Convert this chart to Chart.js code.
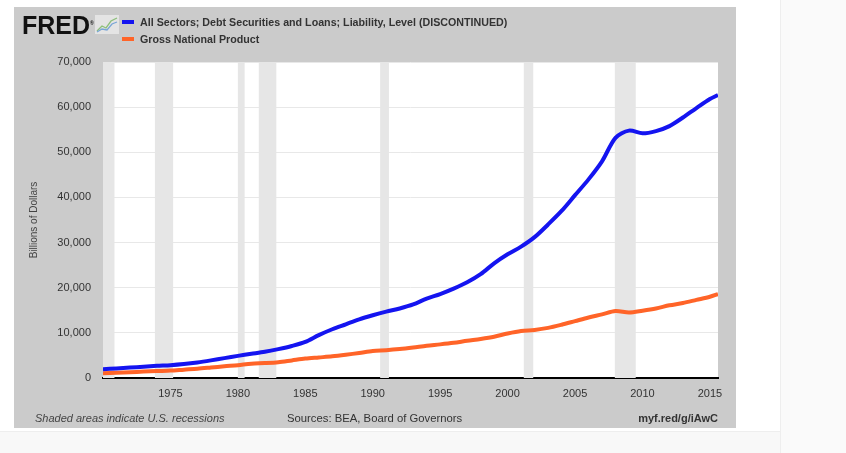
<!DOCTYPE html>
<html>
<head>
<meta charset="utf-8">
<script src="https://cdn.jsdelivr.net/npm/chart.js@4.4.1/dist/chart.umd.min.js"></script>
<style>
  html, body { margin: 0; padding: 0; background: #fff; }
  body { width: 846px; height: 453px; position: relative; overflow: hidden; font-family: 'Liberation Sans', Arial, sans-serif; }
  #side { position: absolute; left: 780px; top: 0; width: 66px; height: 453px; background: #fafafa; border-left: 1px solid #eee; }
  #bottom { position: absolute; left: 0; top: 431px; width: 780px; height: 22px; background: #f8f8f8; border-top: 1px solid #eee; }
  #panel { position: absolute; left: 14px; top: 7px; width: 722px; height: 421px; background: #cbcbcb; }
  #wrap { position: absolute; left: 0; top: 0; width: 722px; height: 421px; }
  .logo { position: absolute; left: 8px; top: 4px; font: bold 25px 'Liberation Sans', Arial, sans-serif; color: #111; letter-spacing: 0; }
  .logo sup { font-size: 5px; }
  .icon { position: absolute; left: 81px; top: 8px; }
  .leg { position: absolute; left: 108px; font: bold 10.7px 'Liberation Sans', Arial, sans-serif; color: #333; white-space: nowrap; }
  .leg i { display: inline-block; width: 12px; height: 4px; margin-right: 6px; vertical-align: 2px; }
  .foot { position: absolute; top: 405px; font: 11px 'Liberation Sans', Arial, sans-serif; color: #333; white-space: nowrap; }
</style>
</head>
<body>
<div id="side"></div>
<div id="bottom"></div>
<div id="panel">
  <div id="wrap"><canvas id="chart"></canvas></div>
  <div class="logo">FRED<sup>®</sup></div>
  <svg class="icon" width="24" height="19" viewBox="0 0 24 19">
    <rect x="0" y="0" width="24" height="19" fill="#e4e4e4"/>
    <polyline points="2,16 7,11 11,13 16,6 22,3" fill="none" stroke="#8cbf7a" stroke-width="1.3"/>
    <polyline points="2,17 7,14 12,15 17,9 22,7" fill="none" stroke="#7aa6d6" stroke-width="1.3"/>
  </svg>
  <div class="leg" style="top:9px"><i style="background:#1414f0"></i>All Sectors; Debt Securities and Loans; Liability, Level (DISCONTINUED)</div>
  <div class="leg" style="top:26px"><i style="background:#ff6428"></i>Gross National Product</div>
  <div class="foot" style="left:21px;font-style:italic;color:#444">Shaded areas indicate U.S. recessions</div>
  <div class="foot" style="left:273px;font-size:11.3px">Sources: BEA, Board of Governors</div>
  <div class="foot" style="right:18px;font-weight:bold">myf.red/g/iAwC</div>
</div>
<script>
// years (start of year, last point mid-2015)
const years = [1970, 1971, 1972, 1973, 1974, 1975, 1976, 1977, 1978, 1979,
  1980, 1981, 1982, 1983, 1984, 1985, 1986, 1987, 1988, 1989,
  1990, 1991, 1992, 1993, 1994, 1995, 1996, 1997, 1998, 1999,
  2000, 2001, 2002, 2003, 2004, 2005, 2006, 2007, 2008, 2009,
  2010, 2011, 2012, 2013, 2014, 2015, 2015.6];

// All Sectors; Debt Securities and Loans; Liability, Level (billions)
const debtValues = [1950, 2100, 2300, 2500, 2700, 2850, 3100, 3450, 3900, 4400,
  4900, 5350, 5800, 6400, 7100, 8000, 9500, 10800, 11900, 13000,
  13900, 14700, 15400, 16300, 17600, 18600, 19800, 21200, 23000, 25400,
  27400, 29100, 31200, 34000, 37000, 40500, 44000, 48000, 53200, 54800,
  54200, 54700, 55800, 57700, 59800, 61800, 62700];

// Gross National Product (billions)
const gnpValues = [1070, 1150, 1260, 1420, 1540, 1640, 1850, 2050, 2320, 2600,
  2850, 3170, 3300, 3500, 3900, 4300, 4550, 4800, 5150, 5550,
  6000, 6150, 6400, 6750, 7150, 7450, 7800, 8250, 8650, 9150,
  9850, 10400, 10650, 11100, 11800, 12600, 13400, 14100, 14850, 14500,
  14900, 15400, 16100, 16600, 17300, 18000, 18600];

const xTicks = [1975, 1980, 1985, 1990, 1995, 2000, 2005, 2010, 2015];

// NBER recessions [start, end] in fractional years
const recessions = [[1970.0, 1970.85], [1973.85, 1975.2], [1980.0, 1980.5],
  [1981.55, 1982.85], [1990.55, 1991.2], [2001.2, 2001.9], [2007.95, 2009.5]];

const FONT = 'Liberation Sans';

const recessionPlugin = {
  id: 'recessions',
  beforeDatasetsDraw(chart) {
    const { ctx, chartArea, scales } = chart;
    ctx.save();
    ctx.fillStyle = '#e6e6e6';
    for (const [a, b] of recessions) {
      const x1 = Math.max(scales.x.getPixelForValue(a), chartArea.left);
      const x2 = Math.min(scales.x.getPixelForValue(b), chartArea.right);
      ctx.fillRect(x1, chartArea.top, x2 - x1, chartArea.bottom - chartArea.top);
    }
    ctx.restore();
  },
};

const plotBgPlugin = {
  id: 'plotBg',
  beforeDraw(chart) {
    const { ctx, chartArea } = chart;
    ctx.save();
    ctx.fillStyle = '#ffffff';
    ctx.fillRect(chartArea.left, chartArea.top, chartArea.right - chartArea.left, chartArea.bottom - chartArea.top);
    ctx.restore();
  },
};

const toPoints = vals => years.map((y, i) => ({ x: y, y: vals[i] }));

new Chart(document.getElementById('chart'), {
  type: 'line',
  data: {
    datasets: [
      {
        label: 'All Sectors; Debt Securities and Loans; Liability, Level (DISCONTINUED)',
        data: toPoints(debtValues),
        borderColor: '#1414f0',
        borderWidth: 4,
        pointRadius: 0,
        tension: 0.3,
      },
      {
        label: 'Gross National Product',
        data: toPoints(gnpValues),
        borderColor: '#ff6428',
        borderWidth: 4,
        pointRadius: 0,
        tension: 0.3,
      },
    ],
  },
  options: {
    responsive: true,
    maintainAspectRatio: false,
    animation: false,
    layout: { padding: { top: 55, right: 18, left: 0, bottom: 0 } },
    plugins: {
      legend: { display: false },
      tooltip: { enabled: false },
    },
    scales: {
      x: {
        type: 'linear',
        min: 1970,
        max: 2015.6,
        afterBuildTicks: scale => { scale.ticks = xTicks.map(v => ({ value: v })); },
        afterFit: scale => { scale.height = 50; },
        grid: { display: false, drawTicks: false },
        border: { display: true, color: '#000', width: 2 },
        ticks: {
          padding: 9,
          font: { size: 11, family: FONT },
          color: '#333',
          callback: v => String(v),
        },
      },
      y: {
        min: 0,
        max: 70000,
        afterFit: scale => { scale.width = 89; },
        grid: { color: '#e8e8e8', drawTicks: false },
        border: { display: false },
        ticks: {
          stepSize: 10000,
          padding: 12,
          font: { size: 11, family: FONT },
          color: '#333',
          callback: v => v.toLocaleString('en-US'),
        },
        title: {
          display: true,
          text: 'Billions of Dollars',
          font: { size: 10, family: FONT },
          color: '#444',
          padding: { top: 14, bottom: 0 },
        },
      },
    },
  },
  plugins: [plotBgPlugin, recessionPlugin],
});
</script>
</body>
</html>
